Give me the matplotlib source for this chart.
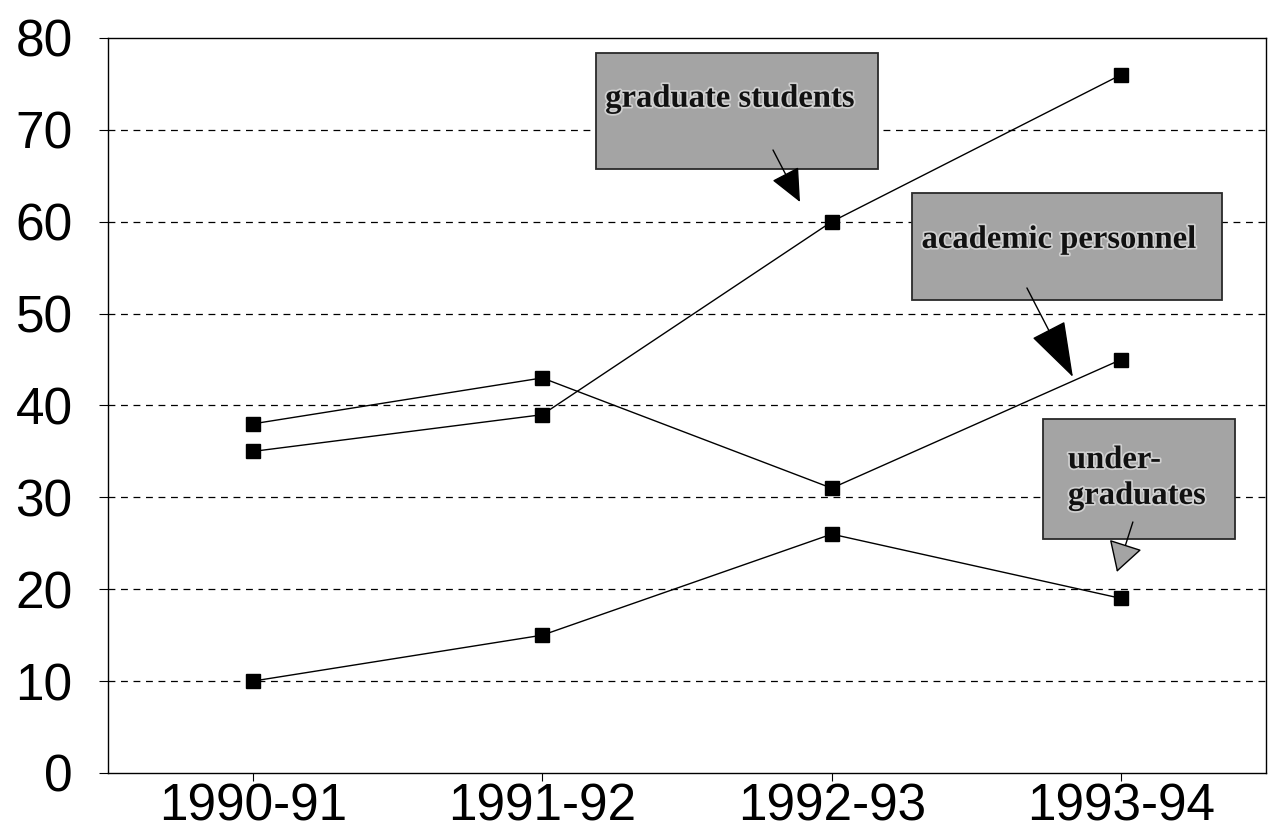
import matplotlib.pyplot as plt
import matplotlib.patheffects as pe
from matplotlib.patches import Rectangle

years = ['1990-91', '1991-92', '1992-93', '1993-94']
graduate = [35, 39, 60, 76]
academic = [38, 43, 31, 45]
undergrad = [10, 15, 26, 19]
yticks = [0, 10, 20, 30, 40, 50, 60, 70, 80]

plt.rcParams['font.family'] = 'Liberation Sans'

fig = plt.figure(figsize=(12.71, 8.31), dpi=100)
ax = fig.add_axes([0.085, 0.0698, 0.911, 0.8845])

x = list(range(len(years)))
for vals in (graduate, academic, undergrad):
    ax.plot(x, vals, color='black', lw=1.0, marker='s', markersize=10,
            markerfacecolor='black', markeredgecolor='black', zorder=3)

ax.set_xlim(-0.5, 3.5)
ax.set_ylim(0, 80)
ax.set_yticks(yticks)
ax.set_xticks(x)
ax.set_xticklabels(years)
ax.tick_params(axis='y', direction='out', length=6.5, width=0.8, pad=19, labelsize=37)
ax.tick_params(axis='x', direction='out', length=6, width=0.8, pad=1, labelsize=37)

for y in yticks[1:-1]:
    ax.axhline(y, color='black', lw=0.9, linestyle=(0, (5.5, 4.5)), zorder=1)

for s in ax.spines.values():
    s.set_linewidth(1.0)
    s.set_color('black')


def label_box(x0, y0, x1, y1, text, tx, ty, ha='center'):
    r = Rectangle((x0, y0), x1 - x0, y1 - y0, transform=ax.transAxes,
                  facecolor='#a4a4a4', edgecolor='#2a2a2a', lw=1.3, zorder=4)
    ax.add_patch(r)
    ax.text(tx, ty, text, transform=ax.transAxes, ha=ha, va='center',
            family='Liberation Serif', fontweight='bold', fontsize=23.5,
            linespacing=1.2, zorder=6, color='#111111',
            path_effects=[pe.withStroke(linewidth=2.5, foreground='#d0d0d0')])


def pointer(start, tip, hl, hw, fc):
    ax.annotate('', xy=tip, xycoords='axes fraction', xytext=start,
                textcoords='axes fraction', zorder=5,
                arrowprops=dict(arrowstyle='-|>,head_length=%s,head_width=%s' % (hl, hw),
                                mutation_scale=10, fc=fc, ec='black', lw=1.0,
                                shrinkA=0, shrinkB=0))


label_box(0.4214, 0.8218, 0.6649, 0.9796, 'graduate students', 0.537, 0.918)
pointer((0.5743, 0.8476), (0.5976, 0.7769), 2.1, 0.95, 'black')

label_box(0.6943, 0.6435, 0.9620, 0.7891, 'academic personnel', 0.821, 0.726)
pointer((0.7936, 0.6599), (0.8333, 0.5388), 3.6, 1.2, 'black')

label_box(0.8074, 0.3184, 0.9732, 0.4816, 'under-\ngraduates', 0.829, 0.402, ha='left')
pointer((0.8851, 0.3415), (0.8713, 0.2735), 1.9, 1.1, '#a4a4a4')

fig.savefig('out.png', dpi=100)
